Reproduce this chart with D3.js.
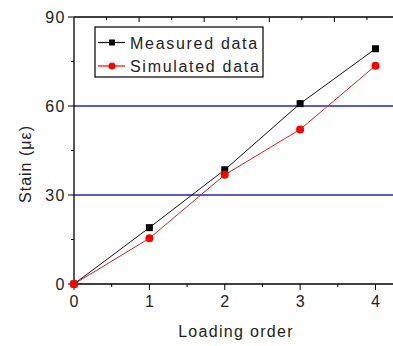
<!DOCTYPE html>
<html>
<head>
<meta charset="utf-8">
<script src="https://cdn.jsdelivr.net/npm/d3@7"></script>
<style>
  body { margin: 0; background: #fff; }
  text { font-family: "Liberation Sans", Arial, sans-serif; }
</style>
</head>
<body>
<div id="box"></div>
<script>
const loadingOrder = [0, 1, 2, 3, 4];
const measured = [0, 19, 38.5, 60.8, 79.3];
const simulated = [0, 15.4, 36.8, 52.1, 73.6];
const yTicks = [0, 30, 60, 90];
const refLines = [30, 60];
const seriesNames = ['Measured data', 'Simulated data'];

const width = 393, height = 346;
const margin = { left: 74, top: 17, bottom: 62 };

const svg = d3.select('#box').append('svg')
  .attr('width', width).attr('height', height);

const x = d3.scaleLinear().domain([0, 4]).range([margin.left, 375.5]);
const y = d3.scaleLinear().domain([0, 90]).range([284, margin.top]);
// mirrored top axis has its own spacing in the source figure
const xTop = d3.scaleLinear().domain([0, 5]).range([margin.left, margin.left + 5 * 65.1]);

// reference lines
svg.selectAll('line.ref').data(refLines).enter().append('line')
  .attr('x1', margin.left).attr('x2', width)
  .attr('y1', d => y(d)).attr('y2', d => y(d))
  .attr('stroke', '#2424c8').attr('stroke-width', 1.4);

// axes lines
svg.append('line').attr('x1', margin.left).attr('x2', width)
  .attr('y1', y(0)).attr('y2', y(0)).attr('stroke', '#000').attr('stroke-width', 1.3);
svg.append('line').attr('x1', margin.left).attr('x2', width)
  .attr('y1', y(90)).attr('y2', y(90)).attr('stroke', '#000').attr('stroke-width', 1.3);
svg.append('line').attr('x1', margin.left).attr('x2', margin.left)
  .attr('y1', y(0)).attr('y2', y(90)).attr('stroke', '#000').attr('stroke-width', 1.3);

// bottom ticks
const xMinor = d3.range(0.5, 4.6, 1);
svg.selectAll('line.xmaj').data(loadingOrder).enter().append('line')
  .attr('x1', d => x(d)).attr('x2', d => x(d))
  .attr('y1', y(0)).attr('y2', y(0) + 6).attr('stroke', '#000');
svg.selectAll('line.xmin').data(xMinor).enter().append('line')
  .attr('x1', d => x(d)).attr('x2', d => x(d))
  .attr('y1', y(0)).attr('y2', y(0) + 3).attr('stroke', '#000');
svg.selectAll('text.xt').data(loadingOrder).enter().append('text')
  .attr('x', d => x(d)).attr('y', 307)
  .attr('text-anchor', 'middle').attr('font-size', 16).attr('fill', '#222')
  .text(d => d);

// top ticks (inward)
svg.selectAll('line.tmaj').data([1, 2, 3, 4]).enter().append('line')
  .attr('x1', d => xTop(d)).attr('x2', d => xTop(d))
  .attr('y1', y(90)).attr('y2', y(90) + 5).attr('stroke', '#000');
svg.selectAll('line.tmin').data(d3.range(0.5, 4.6, 1)).enter().append('line')
  .attr('x1', d => xTop(d)).attr('x2', d => xTop(d))
  .attr('y1', y(90)).attr('y2', y(90) + 3).attr('stroke', '#000');

// left ticks
svg.selectAll('line.ymaj').data(yTicks).enter().append('line')
  .attr('x1', margin.left - 6).attr('x2', margin.left)
  .attr('y1', d => y(d)).attr('y2', d => y(d)).attr('stroke', '#000');
svg.selectAll('line.ymin').data([15, 45, 75]).enter().append('line')
  .attr('x1', margin.left - 3).attr('x2', margin.left)
  .attr('y1', d => y(d)).attr('y2', d => y(d)).attr('stroke', '#000');
svg.selectAll('text.yt').data(yTicks).enter().append('text')
  .attr('x', 66).attr('y', d => y(d) + 6)
  .attr('text-anchor', 'end').attr('font-size', 16).attr('fill', '#222')
  .attr('letter-spacing', 1.5)
  .text(d => d);

// axis titles
svg.append('text').attr('x', 236).attr('y', 337)
  .attr('text-anchor', 'middle').attr('font-size', 16).attr('fill', '#222')
  .attr('letter-spacing', 1.3)
  .text('Loading order');
svg.append('text').attr('transform', 'translate(31,164) rotate(-90)')
  .attr('text-anchor', 'middle').attr('font-size', 16).attr('fill', '#222')
  .attr('letter-spacing', 1)
  .text('Stain (με)');

// series
const line = d3.line().x((d, i) => x(loadingOrder[i])).y(d => y(d));
svg.append('path').datum(measured).attr('d', line)
  .attr('fill', 'none').attr('stroke', '#111').attr('stroke-width', 1);
svg.append('path').datum(simulated).attr('d', line)
  .attr('fill', 'none').attr('stroke', '#d42020').attr('stroke-width', 1);

svg.selectAll('rect.m').data(measured).enter().append('rect')
  .attr('x', (d, i) => x(loadingOrder[i]) - 3.5).attr('y', d => y(d) - 3.5)
  .attr('width', 7).attr('height', 7).attr('fill', '#000');
svg.selectAll('circle.s').data(simulated).enter().append('circle')
  .attr('cx', (d, i) => x(loadingOrder[i])).attr('cy', d => y(d))
  .attr('r', 4).attr('fill', '#f00');

// legend
const leg = svg.append('g');
leg.append('rect').attr('x', 95).attr('y', 27).attr('width', 168).attr('height', 50)
  .attr('fill', '#fff').attr('stroke', '#000').attr('stroke-width', 1.2);
const rows = [
  { name: seriesNames[0], color: '#111', mark: 'square', cy: 42.5 },
  { name: seriesNames[1], color: '#f00', mark: 'circle', cy: 66 }
];
rows.forEach(r => {
  leg.append('line').attr('x1', 98).attr('x2', 125).attr('y1', r.cy).attr('y2', r.cy)
    .attr('stroke', r.color).attr('stroke-width', 1.2);
  if (r.mark === 'square') {
    leg.append('rect').attr('x', 109).attr('y', r.cy - 3).attr('width', 6).attr('height', 6).attr('fill', '#000');
  } else {
    leg.append('circle').attr('cx', 112).attr('cy', r.cy).attr('r', 3.5).attr('fill', '#f00');
  }
  leg.append('text').attr('x', 130).attr('y', r.cy + 6)
    .attr('font-size', 16).attr('fill', '#222').attr('letter-spacing', 1.7)
    .text(r.name);
});
</script>
</body>
</html>
